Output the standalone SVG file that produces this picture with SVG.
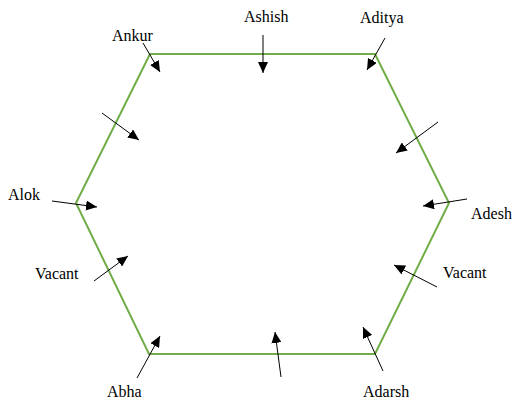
<svg xmlns="http://www.w3.org/2000/svg" width="515" height="400" viewBox="0 0 515 400">
<style>
.lbl{font-family:"Liberation Serif","Times New Roman",serif;font-size:16px;fill:#000}
.arr{stroke:#000;stroke-width:1;fill:none;marker-end:url(#ah)}
.hex{fill:none;stroke:#70AD47;stroke-width:2}
</style>
<defs>
<marker id="ah" markerUnits="userSpaceOnUse" markerWidth="12" markerHeight="10" refX="11" refY="5" orient="auto">
<path d="M0,0 L11,5 L0,10 Z" fill="#000"/>
</marker>
</defs>
<rect width="515" height="400" fill="#fff"/>
<g id="hexagon">
<polygon class="hex" points="150,54 375,54 449,203 375,354 149,354 76,203"/>
</g>
<g id="connectors">
<line class="arr" x1="143" y1="43" x2="160" y2="72"/>
<line class="arr" x1="263" y1="35" x2="263" y2="73"/>
<line class="arr" x1="385" y1="38" x2="367" y2="70"/>
<line class="arr" x1="102" y1="113" x2="139" y2="140"/>
<line class="arr" x1="52" y1="201" x2="97" y2="207"/>
<line class="arr" x1="94" y1="281" x2="128" y2="256"/>
<line class="arr" x1="438" y1="122" x2="396" y2="153"/>
<line class="arr" x1="467" y1="199" x2="423" y2="206"/>
<line class="arr" x1="437" y1="287" x2="394" y2="265"/>
<line class="arr" x1="137" y1="378" x2="160" y2="336"/>
<line class="arr" x1="281" y1="377" x2="275" y2="332"/>
<line class="arr" x1="383" y1="371" x2="363" y2="327"/>
</g>
<g id="ankur"><text class="lbl" x="112" y="41">Ankur</text></g>
<g id="ashish"><text class="lbl" x="244" y="22">Ashish</text></g>
<g id="aditya"><text class="lbl" x="360" y="23">Aditya</text></g>
<g id="alok"><text class="lbl" x="8" y="200">Alok</text></g>
<g id="vacant-left"><text class="lbl" x="35" y="279">Vacant</text></g>
<g id="adesh"><text class="lbl" x="471" y="219">Adesh</text></g>
<g id="vacant-right"><text class="lbl" x="443" y="278">Vacant</text></g>
<g id="abha"><text class="lbl" x="107" y="397">Abha</text></g>
<g id="adarsh"><text class="lbl" x="363" y="397">Adarsh</text></g>
</svg>
